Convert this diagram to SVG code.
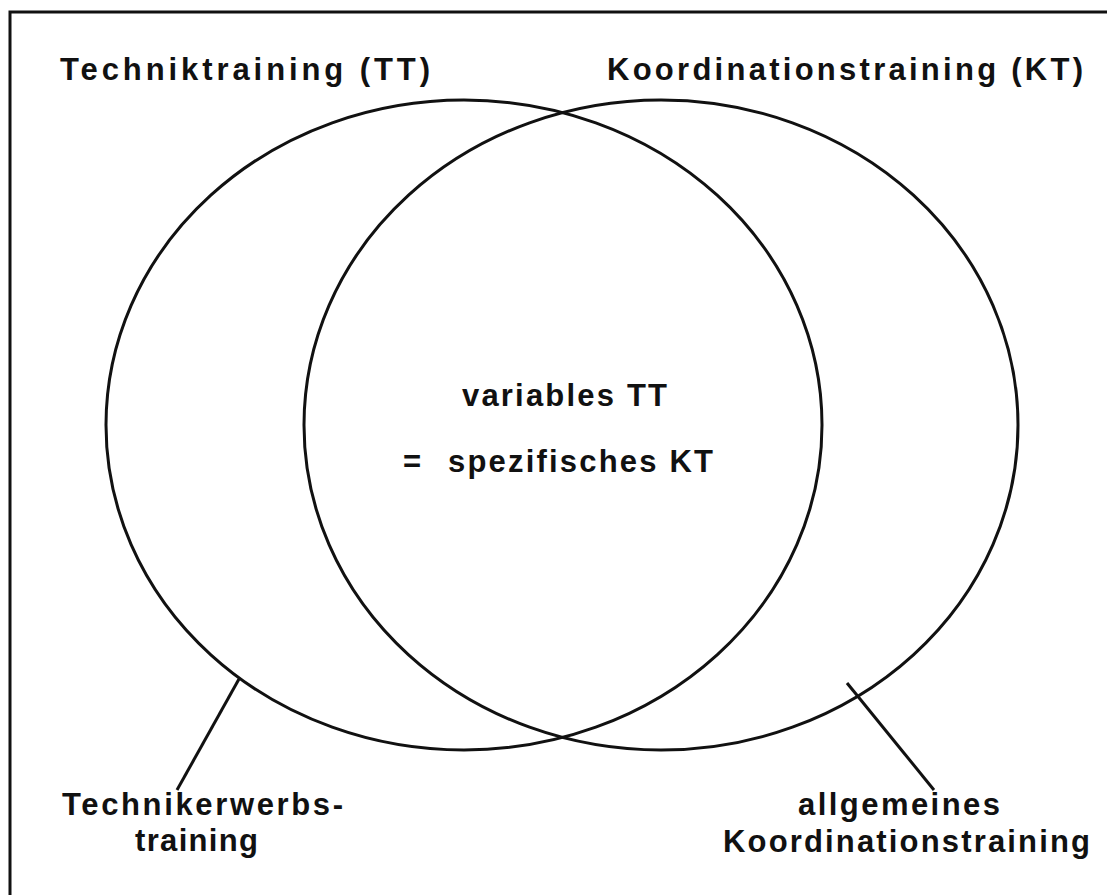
<svg xmlns="http://www.w3.org/2000/svg" width="1107" height="895" viewBox="0 0 1107 895">
<style>
.t{font-family:"Liberation Sans",Arial,sans-serif;font-weight:bold;font-size:31px;fill:#111}
.s{fill:none;stroke:#111;stroke-width:3}
</style>
<rect width="1107" height="895" fill="#fff"/>
<path class="s" d="M10 900 V12 H1110"/>
<g id="tt">
<ellipse class="s" cx="464" cy="425" rx="358" ry="325"/>
<text class="t" x="60" y="80" textLength="370" lengthAdjust="spacing">Techniktraining (TT)</text>
</g>
<g id="kt">
<ellipse class="s" cx="661" cy="425" rx="357" ry="325"/>
<text class="t" x="607" y="80" textLength="476" lengthAdjust="spacing">Koordinationstraining (KT)</text>
</g>
<g id="overlap">
<text class="t" x="462" y="406" textLength="205" lengthAdjust="spacing">variables TT</text>
<text class="t" x="403" y="472">=</text>
<text class="t" x="448" y="472" textLength="265" lengthAdjust="spacing">spezifisches KT</text>
</g>
<g id="technikerwerb">
<text class="t" x="62" y="815" textLength="281" lengthAdjust="spacing">Technikerwerbs-</text>
<text class="t" x="135" y="851" textLength="123" lengthAdjust="spacing">training</text>
</g>
<g id="allgemein">
<text class="t" x="798" y="815" textLength="202" lengthAdjust="spacing">allgemeines</text>
<text class="t" x="723" y="852" textLength="367" lengthAdjust="spacing">Koordinationstraining</text>
</g>
<g id="connectors">
<line class="s" x1="239" y1="679" x2="177" y2="790"/>
<line class="s" x1="847" y1="683" x2="934" y2="790"/>
</g>
</svg>
